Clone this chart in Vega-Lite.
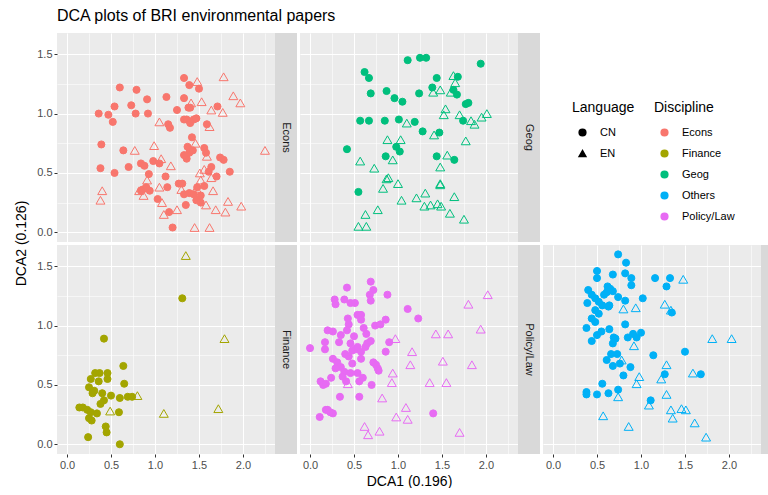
{
  "$schema": "https://vega.github.io/schema/vega-lite/v6.json",
  "padding": {"left": 12, "top": 8, "right": 0, "bottom": 0},
  "title": {"text": "DCA plots of BRI environmental papers", "anchor": "start", "frame": "group", "fontSize": 16, "fontWeight": "normal", "color": "#000000", "dx": 45, "offset": 9, "baseline": "top"},
  "config": {
    "font": "Liberation Sans",
    "view": {"stroke": null},
    "axis": {"domain": false, "gridColor": "#ffffff", "tickColor": "#333333", "tickSize": 3, "labelColor": "#4d4d4d", "labelFontSize": 11, "labelPadding": 2, "titleFontWeight": "normal", "titleColor": "#000000", "titleFontSize": 14, "labelOverlap": false, "labelFlush": false},
    "legend": {"orient": "none", "titleFontSize": 14, "titleFontWeight": "normal", "titleColor": "#000000", "labelFontSize": 11, "labelColor": "#000000", "symbolSize": 45, "rowPadding": 8, "titlePadding": 12, "labelOffset": 12, "symbolOffset": 5, "padding": 0, "titleBaseline": "top"}
  },
  "data": {"values": [
    {"Discipline":"Econs","Language":"CN","DCA1":0.36,"DCA2":1.00},{"Discipline":"Econs","Language":"CN","DCA1":0.47,"DCA2":0.99},{"Discipline":"Econs","Language":"CN","DCA1":0.52,"DCA2":0.93},{"Discipline":"Econs","Language":"CN","DCA1":0.54,"DCA2":1.06},{"Discipline":"Econs","Language":"CN","DCA1":0.60,"DCA2":1.22},{"Discipline":"Econs","Language":"CN","DCA1":0.73,"DCA2":1.07},{"Discipline":"Econs","Language":"CN","DCA1":0.79,"DCA2":1.20},{"Discipline":"Econs","Language":"CN","DCA1":0.78,"DCA2":1.00},{"Discipline":"Econs","Language":"CN","DCA1":0.91,"DCA2":1.12},{"Discipline":"Econs","Language":"CN","DCA1":0.92,"DCA2":1.00},
    {"Discipline":"Econs","Language":"CN","DCA1":0.39,"DCA2":0.74},{"Discipline":"Econs","Language":"CN","DCA1":0.38,"DCA2":0.54},{"Discipline":"Econs","Language":"CN","DCA1":0.54,"DCA2":0.50},{"Discipline":"Econs","Language":"CN","DCA1":0.64,"DCA2":0.69},{"Discipline":"Econs","Language":"CN","DCA1":0.70,"DCA2":0.55},{"Discipline":"Econs","Language":"CN","DCA1":0.84,"DCA2":0.58},{"Discipline":"Econs","Language":"CN","DCA1":0.88,"DCA2":0.56},{"Discipline":"Econs","Language":"CN","DCA1":0.93,"DCA2":0.49},{"Discipline":"Econs","Language":"CN","DCA1":0.98,"DCA2":0.60},{"Discipline":"Econs","Language":"CN","DCA1":1.05,"DCA2":0.58},
    {"Discipline":"Econs","Language":"CN","DCA1":1.12,"DCA2":0.47},{"Discipline":"Econs","Language":"CN","DCA1":1.13,"DCA2":1.14},{"Discipline":"Econs","Language":"CN","DCA1":1.15,"DCA2":0.91},{"Discipline":"Econs","Language":"CN","DCA1":1.17,"DCA2":0.88},{"Discipline":"Econs","Language":"CN","DCA1":1.25,"DCA2":1.03},{"Discipline":"Econs","Language":"CN","DCA1":1.33,"DCA2":1.30},{"Discipline":"Econs","Language":"CN","DCA1":1.39,"DCA2":1.24},{"Discipline":"Econs","Language":"CN","DCA1":1.50,"DCA2":1.21},{"Discipline":"Econs","Language":"CN","DCA1":1.33,"DCA2":1.13},{"Discipline":"Econs","Language":"CN","DCA1":1.38,"DCA2":1.05},
    {"Discipline":"Econs","Language":"CN","DCA1":1.40,"DCA2":1.05},{"Discipline":"Econs","Language":"CN","DCA1":1.33,"DCA2":0.95},{"Discipline":"Econs","Language":"CN","DCA1":1.36,"DCA2":0.95},{"Discipline":"Econs","Language":"CN","DCA1":1.40,"DCA2":0.92},{"Discipline":"Econs","Language":"CN","DCA1":1.44,"DCA2":0.95},{"Discipline":"Econs","Language":"CN","DCA1":1.47,"DCA2":0.96},{"Discipline":"Econs","Language":"CN","DCA1":1.42,"DCA2":0.80},{"Discipline":"Econs","Language":"CN","DCA1":1.37,"DCA2":0.72},{"Discipline":"Econs","Language":"CN","DCA1":1.39,"DCA2":0.67},{"Discipline":"Econs","Language":"CN","DCA1":1.36,"DCA2":0.62},
    {"Discipline":"Econs","Language":"CN","DCA1":1.43,"DCA2":0.69},{"Discipline":"Econs","Language":"CN","DCA1":1.56,"DCA2":0.71},{"Discipline":"Econs","Language":"CN","DCA1":1.58,"DCA2":0.67},{"Discipline":"Econs","Language":"CN","DCA1":1.59,"DCA2":0.91},{"Discipline":"Econs","Language":"CN","DCA1":1.71,"DCA2":1.06},{"Discipline":"Econs","Language":"CN","DCA1":1.74,"DCA2":0.63},{"Discipline":"Econs","Language":"CN","DCA1":1.78,"DCA2":0.61},{"Discipline":"Econs","Language":"CN","DCA1":1.85,"DCA2":0.51},{"Discipline":"Econs","Language":"CN","DCA1":1.64,"DCA2":0.55},{"Discipline":"Econs","Language":"CN","DCA1":1.61,"DCA2":0.51},
    {"Discipline":"Econs","Language":"CN","DCA1":1.70,"DCA2":0.47},{"Discipline":"Econs","Language":"CN","DCA1":1.33,"DCA2":0.65},{"Discipline":"Econs","Language":"CN","DCA1":1.27,"DCA2":0.41},{"Discipline":"Econs","Language":"CN","DCA1":1.31,"DCA2":0.41},{"Discipline":"Econs","Language":"CN","DCA1":1.33,"DCA2":0.32},{"Discipline":"Econs","Language":"CN","DCA1":1.39,"DCA2":0.33},{"Discipline":"Econs","Language":"CN","DCA1":1.44,"DCA2":0.32},{"Discipline":"Econs","Language":"CN","DCA1":1.47,"DCA2":0.27},{"Discipline":"Econs","Language":"CN","DCA1":1.52,"DCA2":0.25},{"Discipline":"Econs","Language":"CN","DCA1":1.48,"DCA2":0.38},
    {"Discipline":"Econs","Language":"CN","DCA1":1.35,"DCA2":0.23},{"Discipline":"Econs","Language":"CN","DCA1":1.14,"DCA2":0.38},{"Discipline":"Econs","Language":"CN","DCA1":1.16,"DCA2":0.17},{"Discipline":"Econs","Language":"CN","DCA1":1.20,"DCA2":0.04},{"Discipline":"Econs","Language":"CN","DCA1":1.03,"DCA2":0.28},{"Discipline":"Econs","Language":"CN","DCA1":0.94,"DCA2":0.35},{"Discipline":"Econs","Language":"CN","DCA1":0.86,"DCA2":0.36},{"Discipline":"Econs","Language":"CN","DCA1":0.90,"DCA2":0.38},{"Discipline":"Econs","Language":"CN","DCA1":0.84,"DCA2":0.35},{"Discipline":"Econs","Language":"CN","DCA1":1.56,"DCA2":0.39},
    {"Discipline":"Econs","Language":"CN","DCA1":1.52,"DCA2":0.31},
    {"Discipline":"Econs","Language":"EN","DCA1":0.38,"DCA2":0.27},{"Discipline":"Econs","Language":"EN","DCA1":0.40,"DCA2":0.35},{"Discipline":"Econs","Language":"EN","DCA1":0.77,"DCA2":0.69},{"Discipline":"Econs","Language":"EN","DCA1":0.82,"DCA2":0.35},{"Discipline":"Econs","Language":"EN","DCA1":0.87,"DCA2":0.31},{"Discipline":"Econs","Language":"EN","DCA1":0.91,"DCA2":0.44},{"Discipline":"Econs","Language":"EN","DCA1":0.99,"DCA2":0.73},{"Discipline":"Econs","Language":"EN","DCA1":1.05,"DCA2":0.93},{"Discipline":"Econs","Language":"EN","DCA1":1.07,"DCA2":0.62},{"Discipline":"Econs","Language":"EN","DCA1":1.18,"DCA2":0.56},
    {"Discipline":"Econs","Language":"EN","DCA1":1.05,"DCA2":0.38},{"Discipline":"Econs","Language":"EN","DCA1":1.08,"DCA2":0.25},{"Discipline":"Econs","Language":"EN","DCA1":1.10,"DCA2":0.15},{"Discipline":"Econs","Language":"EN","DCA1":1.25,"DCA2":0.19},{"Discipline":"Econs","Language":"EN","DCA1":1.41,"DCA2":1.09},{"Discipline":"Econs","Language":"EN","DCA1":1.48,"DCA2":1.27},{"Discipline":"Econs","Language":"EN","DCA1":1.53,"DCA2":1.10},{"Discipline":"Econs","Language":"EN","DCA1":1.64,"DCA2":1.03},{"Discipline":"Econs","Language":"EN","DCA1":1.77,"DCA2":1.01},{"Discipline":"Econs","Language":"EN","DCA1":1.62,"DCA2":0.89},
    {"Discipline":"Econs","Language":"EN","DCA1":1.59,"DCA2":0.64},{"Discipline":"Econs","Language":"EN","DCA1":1.56,"DCA2":0.53},{"Discipline":"Econs","Language":"EN","DCA1":1.51,"DCA2":0.50},{"Discipline":"Econs","Language":"EN","DCA1":1.52,"DCA2":0.44},{"Discipline":"Econs","Language":"EN","DCA1":1.64,"DCA2":0.46},{"Discipline":"Econs","Language":"EN","DCA1":1.66,"DCA2":0.35},{"Discipline":"Econs","Language":"EN","DCA1":1.58,"DCA2":0.23},{"Discipline":"Econs","Language":"EN","DCA1":1.69,"DCA2":0.19},{"Discipline":"Econs","Language":"EN","DCA1":1.80,"DCA2":0.17},{"Discipline":"Econs","Language":"EN","DCA1":1.83,"DCA2":0.26},
    {"Discipline":"Econs","Language":"EN","DCA1":1.98,"DCA2":0.22},{"Discipline":"Econs","Language":"EN","DCA1":1.45,"DCA2":0.04},{"Discipline":"Econs","Language":"EN","DCA1":1.62,"DCA2":0.04},{"Discipline":"Econs","Language":"EN","DCA1":1.78,"DCA2":1.31},{"Discipline":"Econs","Language":"EN","DCA1":1.89,"DCA2":1.15},{"Discipline":"Econs","Language":"EN","DCA1":1.97,"DCA2":1.09},{"Discipline":"Econs","Language":"EN","DCA1":2.25,"DCA2":0.69},{"Discipline":"Econs","Language":"EN","DCA1":1.47,"DCA2":0.37},{"Discipline":"Econs","Language":"EN","DCA1":1.46,"DCA2":0.75},{"Discipline":"Econs","Language":"EN","DCA1":1.30,"DCA2":0.36},
    {"Discipline":"Geog","Language":"CN","DCA1":1.11,"DCA2":1.45},{"Discipline":"Geog","Language":"CN","DCA1":1.25,"DCA2":1.47},{"Discipline":"Geog","Language":"CN","DCA1":1.32,"DCA2":1.47},{"Discipline":"Geog","Language":"CN","DCA1":1.94,"DCA2":1.42},{"Discipline":"Geog","Language":"CN","DCA1":0.62,"DCA2":1.35},{"Discipline":"Geog","Language":"CN","DCA1":0.67,"DCA2":1.30},{"Discipline":"Geog","Language":"CN","DCA1":0.69,"DCA2":1.17},{"Discipline":"Geog","Language":"CN","DCA1":0.87,"DCA2":1.19},{"Discipline":"Geog","Language":"CN","DCA1":0.96,"DCA2":1.13},{"Discipline":"Geog","Language":"CN","DCA1":1.05,"DCA2":1.10},
    {"Discipline":"Geog","Language":"CN","DCA1":1.24,"DCA2":1.17},{"Discipline":"Geog","Language":"CN","DCA1":1.44,"DCA2":1.30},{"Discipline":"Geog","Language":"CN","DCA1":1.68,"DCA2":1.31},{"Discipline":"Geog","Language":"CN","DCA1":1.39,"DCA2":1.22},{"Discipline":"Geog","Language":"CN","DCA1":1.63,"DCA2":1.20},{"Discipline":"Geog","Language":"CN","DCA1":1.67,"DCA2":1.16},{"Discipline":"Geog","Language":"CN","DCA1":1.77,"DCA2":1.08},{"Discipline":"Geog","Language":"CN","DCA1":1.80,"DCA2":1.09},{"Discipline":"Geog","Language":"CN","DCA1":0.57,"DCA2":0.94},{"Discipline":"Geog","Language":"CN","DCA1":0.67,"DCA2":0.94},
    {"Discipline":"Geog","Language":"CN","DCA1":0.85,"DCA2":0.94},{"Discipline":"Geog","Language":"CN","DCA1":1.01,"DCA2":0.95},{"Discipline":"Geog","Language":"CN","DCA1":1.19,"DCA2":0.93},{"Discipline":"Geog","Language":"CN","DCA1":1.28,"DCA2":0.85},{"Discipline":"Geog","Language":"CN","DCA1":1.47,"DCA2":0.84},{"Discipline":"Geog","Language":"CN","DCA1":1.74,"DCA2":0.94},{"Discipline":"Geog","Language":"CN","DCA1":0.42,"DCA2":0.70},{"Discipline":"Geog","Language":"CN","DCA1":0.98,"DCA2":0.72},{"Discipline":"Geog","Language":"CN","DCA1":1.02,"DCA2":0.68},{"Discipline":"Geog","Language":"CN","DCA1":0.86,"DCA2":0.64},
    {"Discipline":"Geog","Language":"CN","DCA1":1.44,"DCA2":0.64},{"Discipline":"Geog","Language":"CN","DCA1":1.64,"DCA2":0.61},{"Discipline":"Geog","Language":"CN","DCA1":0.55,"DCA2":0.34},
    {"Discipline":"Geog","Language":"EN","DCA1":1.63,"DCA2":1.32},{"Discipline":"Geog","Language":"EN","DCA1":1.65,"DCA2":1.26},{"Discipline":"Geog","Language":"EN","DCA1":1.60,"DCA2":1.18},{"Discipline":"Geog","Language":"EN","DCA1":1.40,"DCA2":1.18},{"Discipline":"Geog","Language":"EN","DCA1":1.48,"DCA2":1.20},{"Discipline":"Geog","Language":"EN","DCA1":1.54,"DCA2":1.04},{"Discipline":"Geog","Language":"EN","DCA1":1.52,"DCA2":0.99},{"Discipline":"Geog","Language":"EN","DCA1":1.70,"DCA2":0.99},{"Discipline":"Geog","Language":"EN","DCA1":1.83,"DCA2":0.94},{"Discipline":"Geog","Language":"EN","DCA1":1.87,"DCA2":0.91},
    {"Discipline":"Geog","Language":"EN","DCA1":1.95,"DCA2":0.97},{"Discipline":"Geog","Language":"EN","DCA1":2.01,"DCA2":1.00},{"Discipline":"Geog","Language":"EN","DCA1":1.10,"DCA2":0.92},{"Discipline":"Geog","Language":"EN","DCA1":0.88,"DCA2":0.78},{"Discipline":"Geog","Language":"EN","DCA1":1.03,"DCA2":0.78},{"Discipline":"Geog","Language":"EN","DCA1":1.41,"DCA2":0.82},{"Discipline":"Geog","Language":"EN","DCA1":1.77,"DCA2":0.77},{"Discipline":"Geog","Language":"EN","DCA1":0.57,"DCA2":0.60},{"Discipline":"Geog","Language":"EN","DCA1":0.94,"DCA2":0.61},{"Discipline":"Geog","Language":"EN","DCA1":0.73,"DCA2":0.54},
    {"Discipline":"Geog","Language":"EN","DCA1":1.56,"DCA2":0.65},{"Discipline":"Geog","Language":"EN","DCA1":1.48,"DCA2":0.55},{"Discipline":"Geog","Language":"EN","DCA1":0.89,"DCA2":0.46},{"Discipline":"Geog","Language":"EN","DCA1":0.87,"DCA2":0.45},{"Discipline":"Geog","Language":"EN","DCA1":1.00,"DCA2":0.41},{"Discipline":"Geog","Language":"EN","DCA1":0.83,"DCA2":0.37},{"Discipline":"Geog","Language":"EN","DCA1":1.04,"DCA2":0.27},{"Discipline":"Geog","Language":"EN","DCA1":1.48,"DCA2":0.41},{"Discipline":"Geog","Language":"EN","DCA1":1.48,"DCA2":0.40},{"Discipline":"Geog","Language":"EN","DCA1":1.21,"DCA2":0.29},
    {"Discipline":"Geog","Language":"EN","DCA1":1.31,"DCA2":0.33},{"Discipline":"Geog","Language":"EN","DCA1":1.30,"DCA2":0.22},{"Discipline":"Geog","Language":"EN","DCA1":1.37,"DCA2":0.23},{"Discipline":"Geog","Language":"EN","DCA1":1.45,"DCA2":0.24},{"Discipline":"Geog","Language":"EN","DCA1":1.49,"DCA2":0.22},{"Discipline":"Geog","Language":"EN","DCA1":1.64,"DCA2":0.30},{"Discipline":"Geog","Language":"EN","DCA1":1.59,"DCA2":0.16},{"Discipline":"Geog","Language":"EN","DCA1":1.75,"DCA2":0.11},{"Discipline":"Geog","Language":"EN","DCA1":0.63,"DCA2":0.15},{"Discipline":"Geog","Language":"EN","DCA1":0.77,"DCA2":0.19},
    {"Discipline":"Geog","Language":"EN","DCA1":0.55,"DCA2":0.05},{"Discipline":"Geog","Language":"EN","DCA1":0.64,"DCA2":0.05},
    {"Discipline":"Finance","Language":"CN","DCA1":1.31,"DCA2":1.23},{"Discipline":"Finance","Language":"CN","DCA1":0.42,"DCA2":0.89},{"Discipline":"Finance","Language":"CN","DCA1":0.64,"DCA2":0.66},{"Discipline":"Finance","Language":"CN","DCA1":0.65,"DCA2":0.51},{"Discipline":"Finance","Language":"CN","DCA1":0.32,"DCA2":0.60},{"Discipline":"Finance","Language":"CN","DCA1":0.37,"DCA2":0.60},{"Discipline":"Finance","Language":"CN","DCA1":0.46,"DCA2":0.60},{"Discipline":"Finance","Language":"CN","DCA1":0.27,"DCA2":0.55},{"Discipline":"Finance","Language":"CN","DCA1":0.36,"DCA2":0.53},{"Discipline":"Finance","Language":"CN","DCA1":0.46,"DCA2":0.55},
    {"Discipline":"Finance","Language":"CN","DCA1":0.25,"DCA2":0.48},{"Discipline":"Finance","Language":"CN","DCA1":0.31,"DCA2":0.45},{"Discipline":"Finance","Language":"CN","DCA1":0.29,"DCA2":0.43},{"Discipline":"Finance","Language":"CN","DCA1":0.40,"DCA2":0.43},{"Discipline":"Finance","Language":"CN","DCA1":0.50,"DCA2":0.41},{"Discipline":"Finance","Language":"CN","DCA1":0.42,"DCA2":0.37},{"Discipline":"Finance","Language":"CN","DCA1":0.38,"DCA2":0.34},{"Discipline":"Finance","Language":"CN","DCA1":0.60,"DCA2":0.39},{"Discipline":"Finance","Language":"CN","DCA1":0.69,"DCA2":0.40},{"Discipline":"Finance","Language":"CN","DCA1":0.74,"DCA2":0.40},
    {"Discipline":"Finance","Language":"CN","DCA1":0.14,"DCA2":0.31},{"Discipline":"Finance","Language":"CN","DCA1":0.18,"DCA2":0.31},{"Discipline":"Finance","Language":"CN","DCA1":0.23,"DCA2":0.29},{"Discipline":"Finance","Language":"CN","DCA1":0.27,"DCA2":0.27},{"Discipline":"Finance","Language":"CN","DCA1":0.34,"DCA2":0.26},{"Discipline":"Finance","Language":"CN","DCA1":0.25,"DCA2":0.22},{"Discipline":"Finance","Language":"CN","DCA1":0.28,"DCA2":0.20},{"Discipline":"Finance","Language":"CN","DCA1":0.59,"DCA2":0.27},{"Discipline":"Finance","Language":"CN","DCA1":0.44,"DCA2":0.15},{"Discipline":"Finance","Language":"CN","DCA1":0.45,"DCA2":0.10},
    {"Discipline":"Finance","Language":"CN","DCA1":0.24,"DCA2":0.06},{"Discipline":"Finance","Language":"CN","DCA1":0.60,"DCA2":0.00},
    {"Discipline":"Finance","Language":"EN","DCA1":1.35,"DCA2":1.59},{"Discipline":"Finance","Language":"EN","DCA1":1.79,"DCA2":0.89},{"Discipline":"Finance","Language":"EN","DCA1":0.80,"DCA2":0.41},{"Discipline":"Finance","Language":"EN","DCA1":0.49,"DCA2":0.28},{"Discipline":"Finance","Language":"EN","DCA1":1.10,"DCA2":0.26},{"Discipline":"Finance","Language":"EN","DCA1":1.72,"DCA2":0.30},
    {"Discipline":"Policy/Law","Language":"CN","DCA1":0.00,"DCA2":0.81},{"Discipline":"Policy/Law","Language":"CN","DCA1":0.11,"DCA2":0.23},{"Discipline":"Policy/Law","Language":"CN","DCA1":0.18,"DCA2":0.29},{"Discipline":"Policy/Law","Language":"CN","DCA1":0.23,"DCA2":0.27},{"Discipline":"Policy/Law","Language":"CN","DCA1":0.26,"DCA2":0.26},{"Discipline":"Policy/Law","Language":"CN","DCA1":0.20,"DCA2":0.29},{"Discipline":"Policy/Law","Language":"CN","DCA1":0.12,"DCA2":0.53},{"Discipline":"Policy/Law","Language":"CN","DCA1":0.15,"DCA2":0.50},{"Discipline":"Policy/Law","Language":"CN","DCA1":0.18,"DCA2":0.51},{"Discipline":"Policy/Law","Language":"CN","DCA1":0.24,"DCA2":0.56},
    {"Discipline":"Policy/Law","Language":"CN","DCA1":0.17,"DCA2":0.80},{"Discipline":"Policy/Law","Language":"CN","DCA1":0.17,"DCA2":0.86},{"Discipline":"Policy/Law","Language":"CN","DCA1":0.20,"DCA2":0.96},{"Discipline":"Policy/Law","Language":"CN","DCA1":0.26,"DCA2":0.95},{"Discipline":"Policy/Law","Language":"CN","DCA1":0.28,"DCA2":1.22},{"Discipline":"Policy/Law","Language":"CN","DCA1":0.29,"DCA2":1.18},{"Discipline":"Policy/Law","Language":"CN","DCA1":0.39,"DCA2":1.22},{"Discipline":"Policy/Law","Language":"CN","DCA1":0.42,"DCA2":1.32},{"Discipline":"Policy/Law","Language":"CN","DCA1":0.46,"DCA2":1.19},{"Discipline":"Policy/Law","Language":"CN","DCA1":0.51,"DCA2":1.19},
    {"Discipline":"Policy/Law","Language":"CN","DCA1":0.35,"DCA2":0.92},{"Discipline":"Policy/Law","Language":"CN","DCA1":0.33,"DCA2":0.86},{"Discipline":"Policy/Law","Language":"CN","DCA1":0.26,"DCA2":0.72},{"Discipline":"Policy/Law","Language":"CN","DCA1":0.31,"DCA2":0.69},{"Discipline":"Policy/Law","Language":"CN","DCA1":0.35,"DCA2":0.65},{"Discipline":"Policy/Law","Language":"CN","DCA1":0.39,"DCA2":0.61},{"Discipline":"Policy/Law","Language":"CN","DCA1":0.37,"DCA2":0.57},{"Discipline":"Policy/Law","Language":"CN","DCA1":0.41,"DCA2":0.53},{"Discipline":"Policy/Law","Language":"CN","DCA1":0.34,"DCA2":0.40},{"Discipline":"Policy/Law","Language":"CN","DCA1":0.43,"DCA2":1.06},
    {"Discipline":"Policy/Law","Language":"CN","DCA1":0.44,"DCA2":1.01},{"Discipline":"Policy/Law","Language":"CN","DCA1":0.42,"DCA2":0.96},{"Discipline":"Policy/Law","Language":"CN","DCA1":0.46,"DCA2":0.85},{"Discipline":"Policy/Law","Language":"CN","DCA1":0.48,"DCA2":0.79},{"Discipline":"Policy/Law","Language":"CN","DCA1":0.52,"DCA2":0.80},{"Discipline":"Policy/Law","Language":"CN","DCA1":0.40,"DCA2":0.76},{"Discipline":"Policy/Law","Language":"CN","DCA1":0.44,"DCA2":0.74},{"Discipline":"Policy/Law","Language":"CN","DCA1":0.48,"DCA2":0.68},{"Discipline":"Policy/Law","Language":"CN","DCA1":0.54,"DCA2":1.09},{"Discipline":"Policy/Law","Language":"CN","DCA1":0.58,"DCA2":1.09},
    {"Discipline":"Policy/Law","Language":"CN","DCA1":0.58,"DCA2":1.05},{"Discipline":"Policy/Law","Language":"CN","DCA1":0.61,"DCA2":0.98},{"Discipline":"Policy/Law","Language":"CN","DCA1":0.64,"DCA2":0.93},{"Discipline":"Policy/Law","Language":"CN","DCA1":0.50,"DCA2":0.91},{"Discipline":"Policy/Law","Language":"CN","DCA1":0.54,"DCA2":0.82},{"Discipline":"Policy/Law","Language":"CN","DCA1":0.58,"DCA2":0.78},{"Discipline":"Policy/Law","Language":"CN","DCA1":0.58,"DCA2":0.72},{"Discipline":"Policy/Law","Language":"CN","DCA1":0.54,"DCA2":0.60},{"Discipline":"Policy/Law","Language":"CN","DCA1":0.56,"DCA2":0.53},{"Discipline":"Policy/Law","Language":"CN","DCA1":0.60,"DCA2":0.56},
    {"Discipline":"Policy/Law","Language":"CN","DCA1":0.56,"DCA2":0.40},{"Discipline":"Policy/Law","Language":"CN","DCA1":0.65,"DCA2":0.85},{"Discipline":"Policy/Law","Language":"CN","DCA1":0.69,"DCA2":0.87},{"Discipline":"Policy/Law","Language":"CN","DCA1":0.69,"DCA2":1.37},{"Discipline":"Policy/Law","Language":"CN","DCA1":0.72,"DCA2":1.30},{"Discipline":"Policy/Law","Language":"CN","DCA1":0.68,"DCA2":1.26},{"Discipline":"Policy/Law","Language":"CN","DCA1":0.69,"DCA2":1.21},{"Discipline":"Policy/Law","Language":"CN","DCA1":0.72,"DCA2":0.69},{"Discipline":"Policy/Law","Language":"CN","DCA1":0.75,"DCA2":0.67},{"Discipline":"Policy/Law","Language":"CN","DCA1":0.77,"DCA2":0.64},
    {"Discipline":"Policy/Law","Language":"CN","DCA1":0.78,"DCA2":0.62},{"Discipline":"Policy/Law","Language":"CN","DCA1":0.70,"DCA2":0.50},{"Discipline":"Policy/Law","Language":"CN","DCA1":0.74,"DCA2":1.00},{"Discipline":"Policy/Law","Language":"CN","DCA1":0.80,"DCA2":1.01},{"Discipline":"Policy/Law","Language":"CN","DCA1":0.86,"DCA2":1.05},{"Discipline":"Policy/Law","Language":"CN","DCA1":0.88,"DCA2":1.26},{"Discipline":"Policy/Law","Language":"CN","DCA1":0.90,"DCA2":0.86},{"Discipline":"Policy/Law","Language":"CN","DCA1":0.86,"DCA2":0.78},{"Discipline":"Policy/Law","Language":"CN","DCA1":1.11,"DCA2":1.14},{"Discipline":"Policy/Law","Language":"CN","DCA1":1.23,"DCA2":1.06},
    {"Discipline":"Policy/Law","Language":"CN","DCA1":1.40,"DCA2":0.26},{"Discipline":"Policy/Law","Language":"CN","DCA1":0.46,"DCA2":0.60},{"Discipline":"Policy/Law","Language":"CN","DCA1":0.63,"DCA2":0.82},{"Discipline":"Policy/Law","Language":"CN","DCA1":0.29,"DCA2":0.64},
    {"Discipline":"Policy/Law","Language":"EN","DCA1":2.02,"DCA2":1.26},{"Discipline":"Policy/Law","Language":"EN","DCA1":1.80,"DCA2":1.18},{"Discipline":"Policy/Law","Language":"EN","DCA1":1.94,"DCA2":0.97},{"Discipline":"Policy/Law","Language":"EN","DCA1":1.43,"DCA2":0.93},{"Discipline":"Policy/Law","Language":"EN","DCA1":1.57,"DCA2":0.93},{"Discipline":"Policy/Law","Language":"EN","DCA1":0.97,"DCA2":0.89},{"Discipline":"Policy/Law","Language":"EN","DCA1":1.16,"DCA2":0.78},{"Discipline":"Policy/Law","Language":"EN","DCA1":1.14,"DCA2":0.67},{"Discipline":"Policy/Law","Language":"EN","DCA1":1.51,"DCA2":0.70},{"Discipline":"Policy/Law","Language":"EN","DCA1":1.84,"DCA2":0.67},
    {"Discipline":"Policy/Law","Language":"EN","DCA1":0.94,"DCA2":0.60},{"Discipline":"Policy/Law","Language":"EN","DCA1":0.93,"DCA2":0.52},{"Discipline":"Policy/Law","Language":"EN","DCA1":1.36,"DCA2":0.52},{"Discipline":"Policy/Law","Language":"EN","DCA1":1.55,"DCA2":0.52},{"Discipline":"Policy/Law","Language":"EN","DCA1":0.82,"DCA2":0.39},{"Discipline":"Policy/Law","Language":"EN","DCA1":1.09,"DCA2":0.31},{"Discipline":"Policy/Law","Language":"EN","DCA1":0.98,"DCA2":0.23},{"Discipline":"Policy/Law","Language":"EN","DCA1":1.11,"DCA2":0.21},{"Discipline":"Policy/Law","Language":"EN","DCA1":0.62,"DCA2":0.15},{"Discipline":"Policy/Law","Language":"EN","DCA1":0.66,"DCA2":0.08},
    {"Discipline":"Policy/Law","Language":"EN","DCA1":0.79,"DCA2":0.11},{"Discipline":"Policy/Law","Language":"EN","DCA1":1.70,"DCA2":0.10},{"Discipline":"Policy/Law","Language":"EN","DCA1":0.43,"DCA2":0.51},
    {"Discipline":"Others","Language":"CN","DCA1":0.74,"DCA2":1.60},{"Discipline":"Others","Language":"CN","DCA1":0.83,"DCA2":1.53},{"Discipline":"Others","Language":"CN","DCA1":0.50,"DCA2":1.46},{"Discipline":"Others","Language":"CN","DCA1":0.50,"DCA2":1.40},{"Discipline":"Others","Language":"CN","DCA1":0.68,"DCA2":1.43},{"Discipline":"Others","Language":"CN","DCA1":0.82,"DCA2":1.44},{"Discipline":"Others","Language":"CN","DCA1":0.89,"DCA2":1.40},{"Discipline":"Others","Language":"CN","DCA1":0.89,"DCA2":1.34},{"Discipline":"Others","Language":"CN","DCA1":1.16,"DCA2":1.40},{"Discipline":"Others","Language":"CN","DCA1":1.33,"DCA2":1.40},
    {"Discipline":"Others","Language":"CN","DCA1":1.29,"DCA2":1.33},{"Discipline":"Others","Language":"CN","DCA1":0.40,"DCA2":1.30},{"Discipline":"Others","Language":"CN","DCA1":0.44,"DCA2":1.26},{"Discipline":"Others","Language":"CN","DCA1":0.39,"DCA2":1.19},{"Discipline":"Others","Language":"CN","DCA1":0.48,"DCA2":1.23},{"Discipline":"Others","Language":"CN","DCA1":0.52,"DCA2":1.20},{"Discipline":"Others","Language":"CN","DCA1":0.56,"DCA2":1.17},{"Discipline":"Others","Language":"CN","DCA1":0.62,"DCA2":1.33},{"Discipline":"Others","Language":"CN","DCA1":0.65,"DCA2":1.31},{"Discipline":"Others","Language":"CN","DCA1":0.61,"DCA2":1.28},
    {"Discipline":"Others","Language":"CN","DCA1":0.68,"DCA2":1.29},{"Discipline":"Others","Language":"CN","DCA1":0.58,"DCA2":1.26},{"Discipline":"Others","Language":"CN","DCA1":0.63,"DCA2":1.16},{"Discipline":"Others","Language":"CN","DCA1":0.64,"DCA2":1.17},{"Discipline":"Others","Language":"CN","DCA1":0.48,"DCA2":1.13},{"Discipline":"Others","Language":"CN","DCA1":0.52,"DCA2":1.10},{"Discipline":"Others","Language":"CN","DCA1":0.74,"DCA2":1.24},{"Discipline":"Others","Language":"CN","DCA1":0.82,"DCA2":1.21},{"Discipline":"Others","Language":"CN","DCA1":1.02,"DCA2":1.23},{"Discipline":"Others","Language":"CN","DCA1":1.35,"DCA2":1.11},
    {"Discipline":"Others","Language":"CN","DCA1":0.44,"DCA2":1.06},{"Discipline":"Others","Language":"CN","DCA1":0.48,"DCA2":1.03},{"Discipline":"Others","Language":"CN","DCA1":0.38,"DCA2":0.98},{"Discipline":"Others","Language":"CN","DCA1":0.82,"DCA2":1.01},{"Discipline":"Others","Language":"CN","DCA1":0.50,"DCA2":0.92},{"Discipline":"Others","Language":"CN","DCA1":0.55,"DCA2":0.95},{"Discipline":"Others","Language":"CN","DCA1":0.64,"DCA2":0.97},{"Discipline":"Others","Language":"CN","DCA1":0.44,"DCA2":0.87},{"Discipline":"Others","Language":"CN","DCA1":0.69,"DCA2":0.90},{"Discipline":"Others","Language":"CN","DCA1":0.71,"DCA2":0.89},
    {"Discipline":"Others","Language":"CN","DCA1":0.68,"DCA2":0.85},{"Discipline":"Others","Language":"CN","DCA1":0.85,"DCA2":0.90},{"Discipline":"Others","Language":"CN","DCA1":0.91,"DCA2":0.93},{"Discipline":"Others","Language":"CN","DCA1":0.95,"DCA2":0.90},{"Discipline":"Others","Language":"CN","DCA1":1.00,"DCA2":0.94},{"Discipline":"Others","Language":"CN","DCA1":0.66,"DCA2":0.76},{"Discipline":"Others","Language":"CN","DCA1":0.73,"DCA2":0.76},{"Discipline":"Others","Language":"CN","DCA1":0.61,"DCA2":0.71},{"Discipline":"Others","Language":"CN","DCA1":0.68,"DCA2":0.66},{"Discipline":"Others","Language":"CN","DCA1":0.76,"DCA2":0.68},
    {"Discipline":"Others","Language":"CN","DCA1":0.88,"DCA2":0.65},{"Discipline":"Others","Language":"CN","DCA1":0.80,"DCA2":0.58},{"Discipline":"Others","Language":"CN","DCA1":1.14,"DCA2":0.75},{"Discipline":"Others","Language":"CN","DCA1":1.50,"DCA2":0.78},{"Discipline":"Others","Language":"CN","DCA1":1.27,"DCA2":0.59},{"Discipline":"Others","Language":"CN","DCA1":1.68,"DCA2":0.59},{"Discipline":"Others","Language":"CN","DCA1":0.56,"DCA2":0.51},{"Discipline":"Others","Language":"CN","DCA1":0.38,"DCA2":0.44},{"Discipline":"Others","Language":"CN","DCA1":0.38,"DCA2":0.42},{"Discipline":"Others","Language":"CN","DCA1":0.50,"DCA2":0.42},
    {"Discipline":"Others","Language":"CN","DCA1":0.63,"DCA2":0.43},{"Discipline":"Others","Language":"CN","DCA1":0.74,"DCA2":0.46},{"Discipline":"Others","Language":"CN","DCA1":1.11,"DCA2":0.37},
    {"Discipline":"Others","Language":"EN","DCA1":1.48,"DCA2":1.39},{"Discipline":"Others","Language":"EN","DCA1":1.27,"DCA2":1.18},{"Discipline":"Others","Language":"EN","DCA1":1.34,"DCA2":1.13},{"Discipline":"Others","Language":"EN","DCA1":0.94,"DCA2":1.15},{"Discipline":"Others","Language":"EN","DCA1":0.80,"DCA2":1.14},{"Discipline":"Others","Language":"EN","DCA1":0.92,"DCA2":0.83},{"Discipline":"Others","Language":"EN","DCA1":1.81,"DCA2":0.89},{"Discipline":"Others","Language":"EN","DCA1":2.03,"DCA2":0.89},{"Discipline":"Others","Language":"EN","DCA1":0.78,"DCA2":0.71},{"Discipline":"Others","Language":"EN","DCA1":1.29,"DCA2":0.67},
    {"Discipline":"Others","Language":"EN","DCA1":1.59,"DCA2":0.60},{"Discipline":"Others","Language":"EN","DCA1":0.98,"DCA2":0.57},{"Discipline":"Others","Language":"EN","DCA1":0.95,"DCA2":0.51},{"Discipline":"Others","Language":"EN","DCA1":1.23,"DCA2":0.55},{"Discipline":"Others","Language":"EN","DCA1":1.29,"DCA2":0.42},{"Discipline":"Others","Language":"EN","DCA1":0.74,"DCA2":0.40},{"Discipline":"Others","Language":"EN","DCA1":1.09,"DCA2":0.33},{"Discipline":"Others","Language":"EN","DCA1":1.34,"DCA2":0.29},{"Discipline":"Others","Language":"EN","DCA1":1.46,"DCA2":0.30},{"Discipline":"Others","Language":"EN","DCA1":1.51,"DCA2":0.29},
    {"Discipline":"Others","Language":"EN","DCA1":1.36,"DCA2":0.22},{"Discipline":"Others","Language":"EN","DCA1":1.61,"DCA2":0.18},{"Discipline":"Others","Language":"EN","DCA1":1.74,"DCA2":0.06},{"Discipline":"Others","Language":"EN","DCA1":0.57,"DCA2":0.24},{"Discipline":"Others","Language":"EN","DCA1":0.86,"DCA2":0.15}
  ]},
  "spacing": 5,
  "hconcat": [
    {
      "width": 19, "height": 421,
      "data": {"values": [{"label": "DCA2 (0.126)"}]},
      "mark": {"type": "text", "angle": 270, "fontSize": 14, "color": "#000000"},
      "encoding": {"text": {"field": "label", "type": "nominal"}}
    },
    {
      "spacing": 3,
      "vconcat": [
        {
          "spacing": 3,
          "hconcat": [
            {
              "spacing": 0,
              "hconcat": [
                {
                  "width": 218, "height": 209,
                  "view": {"fill": "#ebebeb", "stroke": null},
                  "transform": [{"filter": {"field": "Discipline", "equal": "Econs"}}],
                  "mark": {"type": "point", "filled": true, "opacity": 1, "strokeWidth": 1},
                  "encoding": {
                    "x": {"field": "DCA1", "type": "quantitative", "scale": {"domain": [-0.114, 2.364], "nice": false, "zero": false},
                      "axis": {"values": [0,0.25,0.5,0.75,1,1.25,1.5,1.75,2,2.25], "labels": false, "ticks": false, "title": null,
                        "gridWidth": {"condition": {"test": "datum.value % 0.5 === 0", "value": 1.1}, "value": 0.55}}},
                    "y": {"field": "DCA2", "type": "quantitative", "scale": {"domain": [-0.082, 1.679], "nice": false, "zero": false},
                      "axis": {"values": [0,0.25,0.5,0.75,1,1.25,1.5], "title": null,
                        "labelExpr": "datum.value % 0.5 === 0 ? format(datum.value, '.1f') : ''",
                        "gridWidth": {"condition": {"test": "datum.value % 0.5 === 0", "value": 1.1}, "value": 0.55},
                        "tickOpacity": {"condition": {"test": "datum.value % 0.5 === 0", "value": 1}, "value": 0}}},
                    "color": {"field": "Discipline", "type": "nominal", "scale": {"domain": ["Econs","Finance","Geog","Others","Policy/Law"], "range": ["#F8766D","#A3A500","#00BF7D","#00B0F6","#E76BF3"]}, "legend": {"title": "Discipline", "legendX": 642, "legendY": 68}},
                    "stroke": {"field": "Discipline", "type": "nominal", "scale": {"domain": ["Econs","Finance","Geog","Others","Policy/Law"], "range": ["#F8766D","#A3A500","#00BF7D","#00B0F6","#E76BF3"]}, "legend": null},
                    "fillOpacity": {"condition": {"test": "datum.Language === 'EN'", "value": 0}, "value": 1},
                    "size": {"condition": {"test": "datum.Language === 'EN'", "value": 80}, "value": 50},
                    "shape": {"field": "Language", "type": "nominal", "scale": {"domain": ["CN","EN"], "range": ["circle","triangle-up"]}, "legend": {"title": "Language", "legendX": 560, "legendY": 68, "symbolFillColor": "#000000", "symbolStrokeColor": "#000000"}}
                  }
                },
                {
                  "width": 22, "height": 209,
                  "data": {"values": [{"label": "Econs"}]},
                  "view": {"fill": "#d9d9d9", "stroke": null},
                  "mark": {"type": "text", "angle": 90, "fontSize": 11, "color": "#1a1a1a"},
                  "encoding": {"text": {"field": "label", "type": "nominal"}}
                }
              ]
            },
            {
              "spacing": 0,
              "hconcat": [
                {
                  "width": 218, "height": 209,
                  "view": {"fill": "#ebebeb", "stroke": null},
                  "transform": [{"filter": {"field": "Discipline", "equal": "Geog"}}],
                  "mark": {"type": "point", "filled": true, "opacity": 1, "strokeWidth": 1},
                  "encoding": {
                    "x": {"field": "DCA1", "type": "quantitative", "scale": {"domain": [-0.114, 2.364], "nice": false, "zero": false},
                      "axis": {"values": [0,0.25,0.5,0.75,1,1.25,1.5,1.75,2,2.25], "labels": false, "ticks": false, "title": null,
                        "gridWidth": {"condition": {"test": "datum.value % 0.5 === 0", "value": 1.1}, "value": 0.55}}},
                    "y": {"field": "DCA2", "type": "quantitative", "scale": {"domain": [-0.082, 1.679], "nice": false, "zero": false},
                      "axis": {"values": [0,0.25,0.5,0.75,1,1.25,1.5], "labels": false, "ticks": false, "title": null,
                        "gridWidth": {"condition": {"test": "datum.value % 0.5 === 0", "value": 1.1}, "value": 0.55}}},
                    "color": {"field": "Discipline", "type": "nominal", "scale": {"domain": ["Econs","Finance","Geog","Others","Policy/Law"], "range": ["#F8766D","#A3A500","#00BF7D","#00B0F6","#E76BF3"]}, "legend": {"title": "Discipline", "legendX": 642, "legendY": 68}},
                    "stroke": {"field": "Discipline", "type": "nominal", "scale": {"domain": ["Econs","Finance","Geog","Others","Policy/Law"], "range": ["#F8766D","#A3A500","#00BF7D","#00B0F6","#E76BF3"]}, "legend": null},
                    "fillOpacity": {"condition": {"test": "datum.Language === 'EN'", "value": 0}, "value": 1},
                    "size": {"condition": {"test": "datum.Language === 'EN'", "value": 80}, "value": 50},
                    "shape": {"field": "Language", "type": "nominal", "scale": {"domain": ["CN","EN"], "range": ["circle","triangle-up"]}, "legend": {"title": "Language", "legendX": 560, "legendY": 68, "symbolFillColor": "#000000", "symbolStrokeColor": "#000000"}}
                  }
                },
                {
                  "width": 22, "height": 209,
                  "data": {"values": [{"label": "Geog"}]},
                  "view": {"fill": "#d9d9d9", "stroke": null},
                  "mark": {"type": "text", "angle": 90, "fontSize": 11, "color": "#1a1a1a"},
                  "encoding": {"text": {"field": "label", "type": "nominal"}}
                }
              ]
            }
          ]
        },
        {
          "spacing": 3,
          "hconcat": [
            {
              "spacing": 0,
              "hconcat": [
                {
                  "width": 218, "height": 209,
                  "view": {"fill": "#ebebeb", "stroke": null},
                  "transform": [{"filter": {"field": "Discipline", "equal": "Finance"}}],
                  "mark": {"type": "point", "filled": true, "opacity": 1, "strokeWidth": 1},
                  "encoding": {
                    "x": {"field": "DCA1", "type": "quantitative", "scale": {"domain": [-0.114, 2.364], "nice": false, "zero": false},
                      "axis": {"values": [0,0.25,0.5,0.75,1,1.25,1.5,1.75,2,2.25], "title": null,
                        "labelExpr": "datum.value % 0.5 === 0 ? format(datum.value, '.1f') : ''",
                        "gridWidth": {"condition": {"test": "datum.value % 0.5 === 0", "value": 1.1}, "value": 0.55},
                        "tickOpacity": {"condition": {"test": "datum.value % 0.5 === 0", "value": 1}, "value": 0}}},
                    "y": {"field": "DCA2", "type": "quantitative", "scale": {"domain": [-0.082, 1.679], "nice": false, "zero": false},
                      "axis": {"values": [0,0.25,0.5,0.75,1,1.25,1.5], "title": null,
                        "labelExpr": "datum.value % 0.5 === 0 ? format(datum.value, '.1f') : ''",
                        "gridWidth": {"condition": {"test": "datum.value % 0.5 === 0", "value": 1.1}, "value": 0.55},
                        "tickOpacity": {"condition": {"test": "datum.value % 0.5 === 0", "value": 1}, "value": 0}}},
                    "color": {"field": "Discipline", "type": "nominal", "scale": {"domain": ["Econs","Finance","Geog","Others","Policy/Law"], "range": ["#F8766D","#A3A500","#00BF7D","#00B0F6","#E76BF3"]}, "legend": {"title": "Discipline", "legendX": 642, "legendY": 68}},
                    "stroke": {"field": "Discipline", "type": "nominal", "scale": {"domain": ["Econs","Finance","Geog","Others","Policy/Law"], "range": ["#F8766D","#A3A500","#00BF7D","#00B0F6","#E76BF3"]}, "legend": null},
                    "fillOpacity": {"condition": {"test": "datum.Language === 'EN'", "value": 0}, "value": 1},
                    "size": {"condition": {"test": "datum.Language === 'EN'", "value": 80}, "value": 50},
                    "shape": {"field": "Language", "type": "nominal", "scale": {"domain": ["CN","EN"], "range": ["circle","triangle-up"]}, "legend": {"title": "Language", "legendX": 560, "legendY": 68, "symbolFillColor": "#000000", "symbolStrokeColor": "#000000"}}
                  }
                },
                {
                  "width": 22, "height": 209,
                  "data": {"values": [{"label": "Finance"}]},
                  "view": {"fill": "#d9d9d9", "stroke": null},
                  "mark": {"type": "text", "angle": 90, "fontSize": 11, "color": "#1a1a1a"},
                  "encoding": {"text": {"field": "label", "type": "nominal"}}
                }
              ]
            },
            {
              "spacing": 0,
              "hconcat": [
                {
                  "width": 218, "height": 209,
                  "view": {"fill": "#ebebeb", "stroke": null},
                  "transform": [{"filter": {"field": "Discipline", "equal": "Policy/Law"}}],
                  "mark": {"type": "point", "filled": true, "opacity": 1, "strokeWidth": 1},
                  "encoding": {
                    "x": {"field": "DCA1", "type": "quantitative", "scale": {"domain": [-0.114, 2.364], "nice": false, "zero": false},
                      "axis": {"values": [0,0.25,0.5,0.75,1,1.25,1.5,1.75,2,2.25], "title": "DCA1 (0.196)", "titlePadding": 4,
                        "labelExpr": "datum.value % 0.5 === 0 ? format(datum.value, '.1f') : ''",
                        "gridWidth": {"condition": {"test": "datum.value % 0.5 === 0", "value": 1.1}, "value": 0.55},
                        "tickOpacity": {"condition": {"test": "datum.value % 0.5 === 0", "value": 1}, "value": 0}}},
                    "y": {"field": "DCA2", "type": "quantitative", "scale": {"domain": [-0.082, 1.679], "nice": false, "zero": false},
                      "axis": {"values": [0,0.25,0.5,0.75,1,1.25,1.5], "labels": false, "ticks": false, "title": null,
                        "gridWidth": {"condition": {"test": "datum.value % 0.5 === 0", "value": 1.1}, "value": 0.55}}},
                    "color": {"field": "Discipline", "type": "nominal", "scale": {"domain": ["Econs","Finance","Geog","Others","Policy/Law"], "range": ["#F8766D","#A3A500","#00BF7D","#00B0F6","#E76BF3"]}, "legend": {"title": "Discipline", "legendX": 642, "legendY": 68}},
                    "stroke": {"field": "Discipline", "type": "nominal", "scale": {"domain": ["Econs","Finance","Geog","Others","Policy/Law"], "range": ["#F8766D","#A3A500","#00BF7D","#00B0F6","#E76BF3"]}, "legend": null},
                    "fillOpacity": {"condition": {"test": "datum.Language === 'EN'", "value": 0}, "value": 1},
                    "size": {"condition": {"test": "datum.Language === 'EN'", "value": 80}, "value": 50},
                    "shape": {"field": "Language", "type": "nominal", "scale": {"domain": ["CN","EN"], "range": ["circle","triangle-up"]}, "legend": {"title": "Language", "legendX": 560, "legendY": 68, "symbolFillColor": "#000000", "symbolStrokeColor": "#000000"}}
                  }
                },
                {
                  "width": 22, "height": 209,
                  "data": {"values": [{"label": "Policy/Law"}]},
                  "view": {"fill": "#d9d9d9", "stroke": null},
                  "mark": {"type": "text", "angle": 90, "fontSize": 11, "color": "#1a1a1a"},
                  "encoding": {"text": {"field": "label", "type": "nominal"}}
                }
              ]
            },
            {
              "spacing": 0,
              "hconcat": [
                {
                  "width": 218, "height": 209,
                  "view": {"fill": "#ebebeb", "stroke": null},
                  "transform": [{"filter": {"field": "Discipline", "equal": "Others"}}],
                  "mark": {"type": "point", "filled": true, "opacity": 1, "strokeWidth": 1},
                  "encoding": {
                    "x": {"field": "DCA1", "type": "quantitative", "scale": {"domain": [-0.114, 2.364], "nice": false, "zero": false},
                      "axis": {"values": [0,0.25,0.5,0.75,1,1.25,1.5,1.75,2,2.25], "title": null,
                        "labelExpr": "datum.value % 0.5 === 0 ? format(datum.value, '.1f') : ''",
                        "gridWidth": {"condition": {"test": "datum.value % 0.5 === 0", "value": 1.1}, "value": 0.55},
                        "tickOpacity": {"condition": {"test": "datum.value % 0.5 === 0", "value": 1}, "value": 0}}},
                    "y": {"field": "DCA2", "type": "quantitative", "scale": {"domain": [-0.082, 1.679], "nice": false, "zero": false},
                      "axis": {"values": [0,0.25,0.5,0.75,1,1.25,1.5], "labels": false, "ticks": false, "title": null,
                        "gridWidth": {"condition": {"test": "datum.value % 0.5 === 0", "value": 1.1}, "value": 0.55}}},
                    "color": {"field": "Discipline", "type": "nominal", "scale": {"domain": ["Econs","Finance","Geog","Others","Policy/Law"], "range": ["#F8766D","#A3A500","#00BF7D","#00B0F6","#E76BF3"]}, "legend": {"title": "Discipline", "legendX": 642, "legendY": 68}},
                    "stroke": {"field": "Discipline", "type": "nominal", "scale": {"domain": ["Econs","Finance","Geog","Others","Policy/Law"], "range": ["#F8766D","#A3A500","#00BF7D","#00B0F6","#E76BF3"]}, "legend": null},
                    "fillOpacity": {"condition": {"test": "datum.Language === 'EN'", "value": 0}, "value": 1},
                    "size": {"condition": {"test": "datum.Language === 'EN'", "value": 80}, "value": 50},
                    "shape": {"field": "Language", "type": "nominal", "scale": {"domain": ["CN","EN"], "range": ["circle","triangle-up"]}, "legend": {"title": "Language", "legendX": 560, "legendY": 68, "symbolFillColor": "#000000", "symbolStrokeColor": "#000000"}}
                  }
                },
                {
                  "width": 22, "height": 209,
                  "data": {"values": [{"label": "Others"}]},
                  "view": {"fill": "#d9d9d9", "stroke": null},
                  "mark": {"type": "text", "angle": 90, "fontSize": 11, "color": "#1a1a1a"},
                  "encoding": {"text": {"field": "label", "type": "nominal"}}
                }
              ]
            }
          ]
        }
      ]
    }
  ]
}
